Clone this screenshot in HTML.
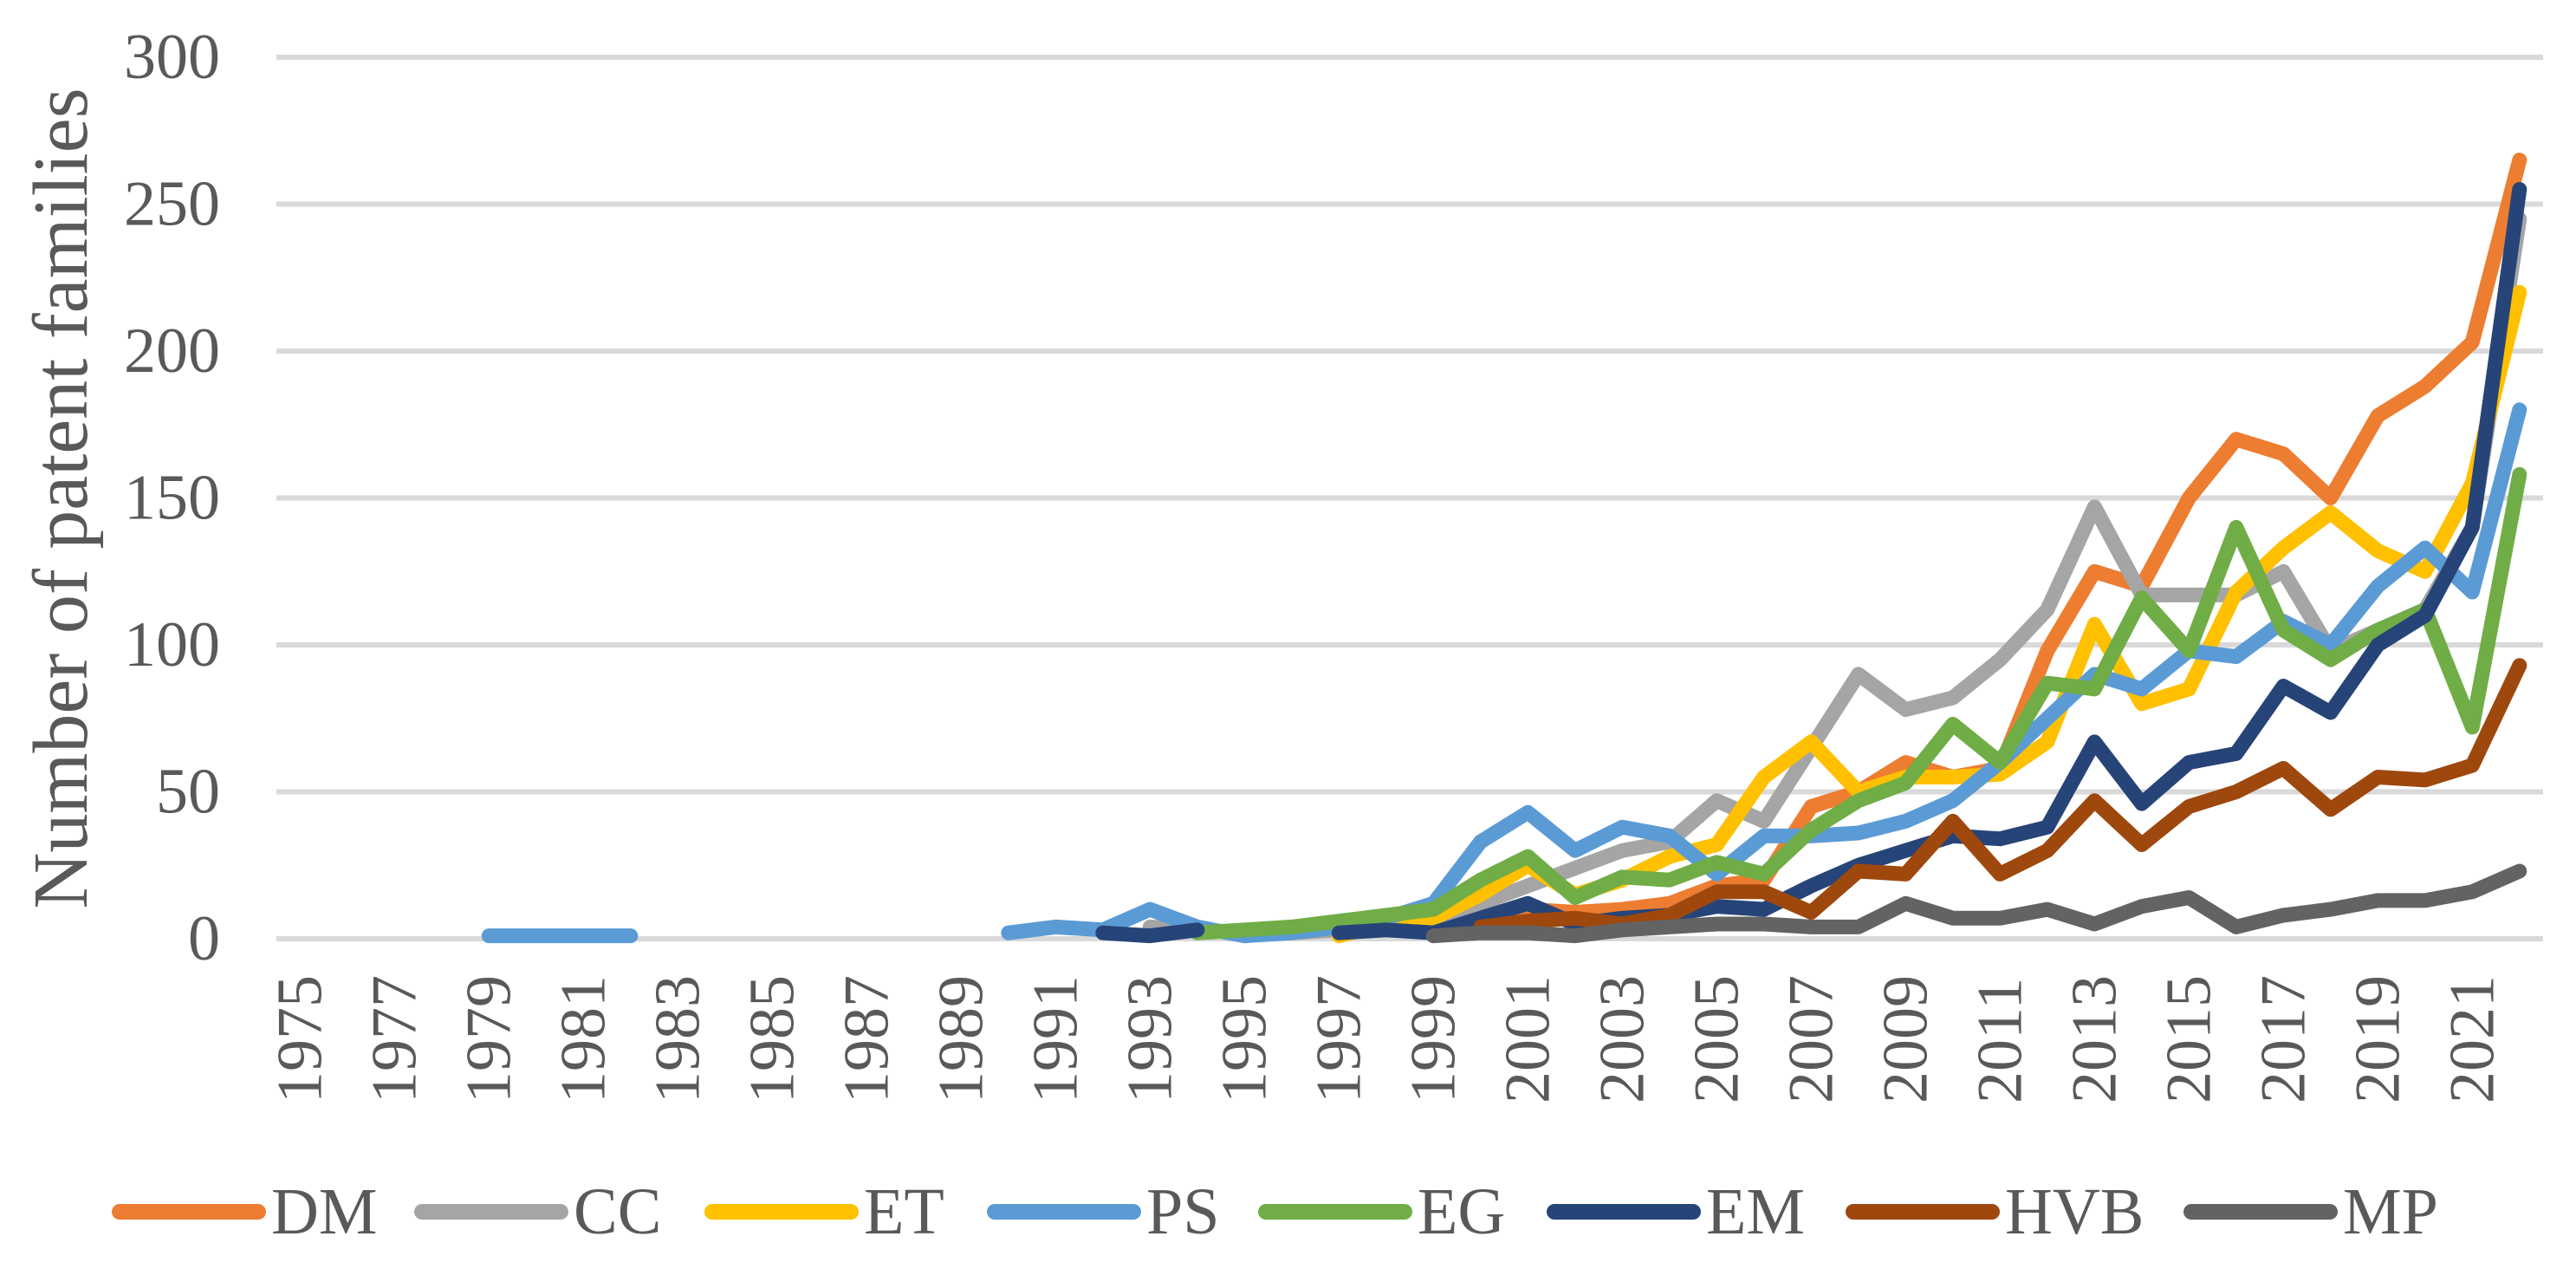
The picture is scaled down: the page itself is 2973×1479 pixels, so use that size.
<!DOCTYPE html>
<html><head><meta charset="utf-8"><style>
html,body{margin:0;padding:0;background:#fff;}
svg{display:block;font-family:"Liberation Serif",serif;}
</style></head><body>
<svg id="chart" width="2973" height="1479" viewBox="0 0 2973 1479" xmlns="http://www.w3.org/2000/svg">
<g id="grid"></g>
<g id="yticks"></g>
<g id="xticks"></g>
<g id="series"></g>
<g id="legend"></g>
<text x="0" y="0" transform="translate(100,575) rotate(-90)" text-anchor="middle" font-size="90" fill="#595959">Number of patent families</text>
</svg>
<script>
const years = [];
for (let y = 1975; y <= 2022; y++) years.push(y);
const yTicks = [0, 50, 100, 150, 200, 250, 300];
const seriesNames = ["DM","CC","ET","PS","EG","EM","HVB","MP"];
const seriesColors = ["#ed7d31","#a5a5a5","#ffc000","#5b9bd5","#70ad47","#264478","#9e480e","#636363"];
const dmStart = 1999;
const dmValues = [5,8,10,9,10,12,18,20,45,50,60,55,58,98,125,120,150,170,165,150,178,188,203,265];
const ccStart = 1993;
const ccValues = [4,3,2,2,3,5,5,12,18,24,30,33,47,40,65,90,78,82,95,112,147,117,117,117,125,98,105,112,140,245];
const etStart = 1997;
const etValues = [1,5,7,15,25,15,20,28,32,55,67,50,55,55,56,67,107,80,85,118,133,145,132,125,155,220];
const psSeg1Start = 1979;
const psSeg1 = [1,1,1,1];
const psStart = 1990;
const psValues = [2,4,3,10,4,1,2,4,7,12,33,43,30,38,35,22,35,35,36,40,47,60,75,90,85,98,96,108,100,120,133,118,180];
const egStart = 1994;
const egValues = [2,3,4,6,8,10,20,28,14,21,20,26,22,37,47,53,73,60,87,85,116,98,140,105,95,105,112,72,158];
const emSeg1Start = 1992;
const emSeg1 = [2,1,3];
const emStart = 1997;
const emValues = [2,3,2,7,12,5,7,8,11,10,18,25,30,35,34,38,67,46,60,63,86,77,100,110,140,255];
const hvbStart = 2000;
const hvbValues = [4,6,7,5,8,16,16,9,23,22,40,22,30,47,32,45,50,58,44,55,54,59,93];
const mpStart = 1999;
const mpValues = [1,2,2,1,3,4,5,5,4,4,12,7,7,10,5,11,14,4,8,10,13,13,16,23];
const legendLineX = [129,478,813,1139,1452,1785,2130,2520];

const NS = "http://www.w3.org/2000/svg";
const left = 319, right = 2935, y0 = 1083, y300 = 66;
const cw = (right - left) / years.length;
function xPos(yr){ return left + cw * (yr - 1975 + 0.5); }
function yPos(v){ return y0 - (y0 - y300) * v / 300; }
function mk(tag, attrs, parent){ const e = document.createElementNS(NS, tag); for (const k in attrs) e.setAttribute(k, attrs[k]); parent.appendChild(e); return e; }

const grid = document.getElementById('grid');
const yt = document.getElementById('yticks');
yTicks.forEach(v => {
  const l = mk('line', {x1:left, x2:right, y1:yPos(v), y2:yPos(v), stroke:'#d9d9d9', 'stroke-width':6}, grid);
  
  
  const t = mk('text', {x:254, y:yPos(v), 'text-anchor':'end', 'dominant-baseline':'central', 'font-size':74, fill:'#595959'}, yt);
  t.textContent = v;
  
  
});
const xt = document.getElementById('xticks');
years.forEach(yr => {
  if ((yr - 1975) % 2 !== 0) return;
  const x = xPos(yr);
  const t = mk('text', {x:0, y:0, transform:'translate(' + x + ',1273) rotate(-90)', 'text-anchor':'start', 'dominant-baseline':'central', 'font-size':74, fill:'#595959'}, xt);
  t.textContent = yr;
  
  
});

const segs = [
  [0, dmStart, dmValues],[1, ccStart, ccValues],[2, etStart, etValues],
  [3, psSeg1Start, psSeg1],[3, psStart, psValues],[4, egStart, egValues],
  [5, emSeg1Start, emSeg1],[5, emStart, emValues],[6, hvbStart, hvbValues],[7, mpStart, mpValues]
];
const sg = document.getElementById('series');
segs.forEach(([si, start, vals]) => {
  const pts = vals.map((v, i) => xPos(start + i).toFixed(1) + ',' + yPos(v).toFixed(1)).join(' ');
  const p = mk('polyline', {points:pts, fill:'none', stroke:seriesColors[si], 'stroke-width':17, 'stroke-linejoin':'round', 'stroke-linecap':'round'}, sg);
  
  
});

const lg = document.getElementById('legend');
seriesNames.forEach((n, i) => {
  const x = legendLineX[i];
  const l = mk('line', {x1:x+9, x2:x+169, y1:1398, y2:1398, stroke:seriesColors[i], 'stroke-width':18, 'stroke-linecap':'round'}, lg);
  
  
  const t = mk('text', {x:x+184, y:1398, 'dominant-baseline':'central', 'font-size':76, fill:'#595959'}, lg);
  t.textContent = n;
  
  
});
</script>
</body></html>
